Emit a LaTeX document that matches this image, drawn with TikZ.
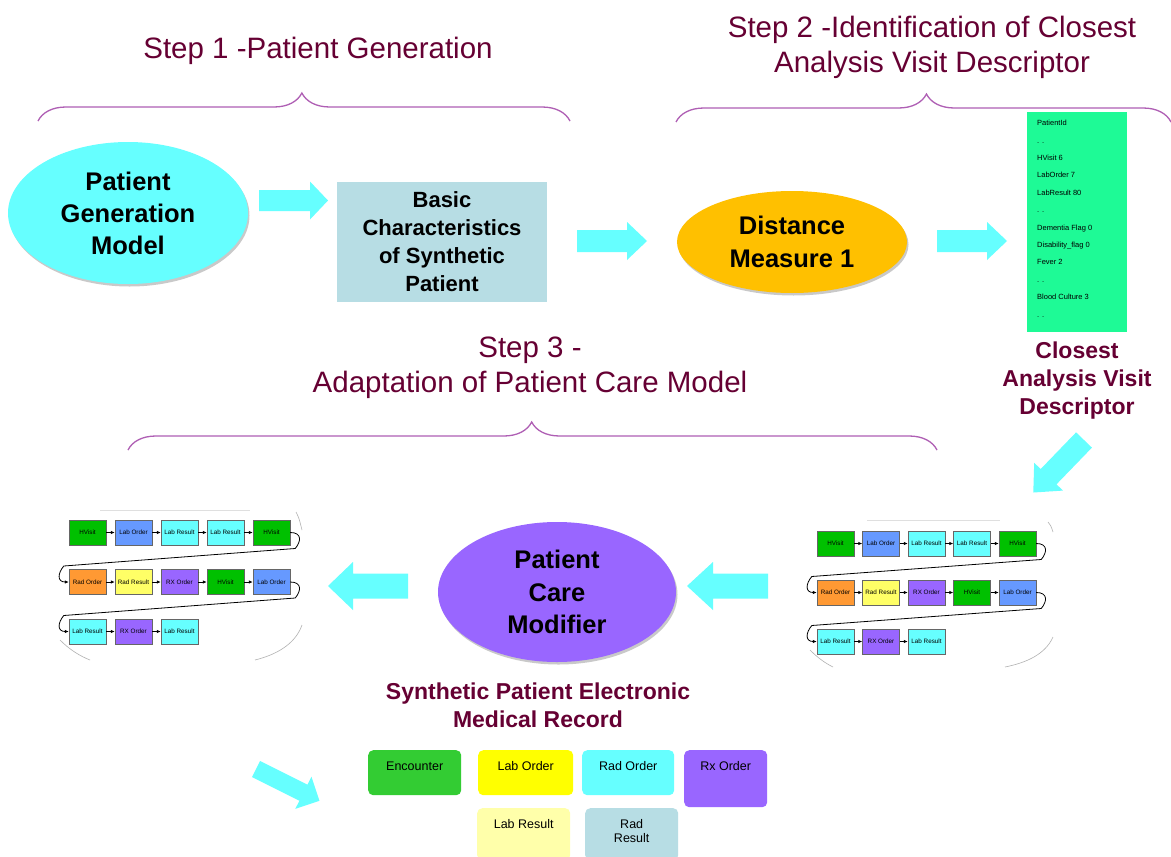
\documentclass[tikz,border=0pt]{standalone}
\usepackage{fontspec}
\setmainfont{Liberation Sans}
\usetikzlibrary{shapes.geometric,arrows.meta,decorations.pathreplacing,calc,shadows}

\definecolor{maroon}{RGB}{102,0,51}
\definecolor{bracec}{RGB}{175,95,180}
\definecolor{arrowc}{RGB}{102,255,255}
\definecolor{ellcyan}{RGB}{102,255,255}
\definecolor{boxgray}{RGB}{183,221,228}
\definecolor{orangeE}{RGB}{255,192,0}
\definecolor{greenD}{RGB}{30,250,150}
\definecolor{purpleE}{RGB}{153,102,255}
\definecolor{chv}{RGB}{0,192,0}
\definecolor{clo}{RGB}{102,153,255}
\definecolor{clr}{RGB}{102,255,255}
\definecolor{cro}{RGB}{255,153,51}
\definecolor{crr}{RGB}{255,255,102}
\definecolor{crx}{RGB}{153,102,255}
\definecolor{lenc}{RGB}{51,204,51}
\definecolor{llo}{RGB}{255,255,0}
\definecolor{lro}{RGB}{102,255,255}
\definecolor{lrx}{RGB}{153,102,255}
\definecolor{llr}{RGB}{255,255,170}
\definecolor{lrr}{RGB}{183,221,228}

\tikzset{
  titletext/.style={font=\fontsize{29.5}{35}\selectfont, text=maroon, align=center, inner sep=0pt},
  maroonlabel/.style={font=\bfseries\fontsize{23}{28}\selectfont, text=maroon, align=center, inner sep=0pt},
  bracestyle/.style={draw=bracec, line width=1.3pt, decorate, decoration={brace, amplitude=28pt, aspect=#1}},
  bigell/.style={ellipse, inner sep=0pt, align=center, drop shadow={shadow xshift=1.5pt, shadow yshift=-2.5pt, fill=gray!70, opacity=0.6}},
  evbox/.style={draw=gray!80!black, line width=0.4pt, minimum width=37pt, minimum height=25pt, inner sep=0pt, font=\fontsize{6.3}{7}\selectfont},
  evarr/.style={-{Latex[length=4pt,width=3.5pt]}, line width=0.8pt, black},
  scroll/.style={draw=gray!60, line width=0.6pt},
  legbox/.style={rounded corners=5pt, inner sep=0pt},
  legtext/.style={font=\fontsize{12.5}{14}\selectfont, align=center}
}

\newcommand\blockarrow[6]{%
  \fill[arrowc, shift={#1}, rotate=#2] (0,-#4) -- ({#3-#6},-#4) -- ({#3-#6},-#5) -- (#3,0) -- ({#3-#6},#5) -- ({#3-#6},#4) -- (0,#4) -- cycle;}

\newcommand\evchain[5]{%
  \foreach \r/\c/\k/\t in {1/1/hv/HVisit,1/2/lo/Lab Order,1/3/lr/Lab Result,1/4/lr/Lab Result,1/5/hv/HVisit,2/1/ro/Rad Order,2/2/rr/Rad Result,2/3/rx/RX Order,2/4/hv/HVisit,2/5/lo/Lab Order,3/1/lr/Lab Result,3/2/rx/RX Order,3/3/lr/Lab Result}
    {\node[evbox, fill=c\k] (#1-\r-\c) at ({#2+(\c-1)*#3},{#4+(\r-1)*#5}) {\t};}
  \foreach \r/\c [evaluate=\c as \n using int(\c+1)] in {1/1,1/2,1/3,1/4,2/1,2/2,2/3,2/4,3/1,3/2}
    {\draw[evarr] (#1-\r-\c) -- (#1-\r-\n);}
  \draw[evarr] (#1-1-5.east) .. controls +(12,0) and +(6,-7) .. ($(#1-1-5.east)+(5,16)$) -- ($(#1-2-1.west)+(-5,-16)$) .. controls +(-6,7) and +(-12,0) .. (#1-2-1.west);
  \draw[evarr] (#1-2-5.east) .. controls +(12,0) and +(6,-7) .. ($(#1-2-5.east)+(5,16)$) -- ($(#1-3-1.west)+(-5,-16)$) .. controls +(-6,7) and +(-12,0) .. (#1-3-1.west);
}

\begin{document}
\begin{tikzpicture}[x=1pt,y=-1pt]
\useasboundingbox (0,0) rectangle (1171,857);
\fill[white] (0,0) rectangle (1171,857);

% titles
\node[titletext] (s1) at (318,50.5) {Step 1 -Patient Generation};
\node[titletext] (s2) at (932,47) {Step 2 -Identification of Closest\\Analysis Visit Descriptor};
\node[titletext] (s3) at (530,368) {Step 3 -\\Adaptation of Patient Care Model};

% braces
\draw[bracestyle=0.496] (38,121) -- (570,121);
\draw[bracestyle=0.506] (676,122) -- (1171,122);
\draw[bracestyle=0.499] (128,450) -- (937,450);

% step 1 and 2 row
\node[bigell, fill=ellcyan, minimum width=240pt, minimum height=142pt, font=\bfseries\fontsize{25.5}{32}\selectfont] (pgm) at (128,213) {Patient\\Generation\\Model};
\node[fill=boxgray, minimum width=210pt, minimum height=120pt, inner sep=0pt, align=center, font=\bfseries\fontsize{22}{28}\selectfont] (basic) at (442,242) {Basic\\Characteristics\\of Synthetic\\Patient};
\node[bigell, fill=orangeE, minimum width=230pt, minimum height=102pt, font=\bfseries\fontsize{25.5}{33}\selectfont] (dist) at (792,242) {Distance\\Measure 1};
\node[fill=greenD, minimum width=100pt, minimum height=220pt, inner sep=0pt, anchor=north west] (vd) at (1027,112) {};
\node[anchor=north west, inner sep=0pt, align=left, font=\fontsize{7.5}{17.4}\selectfont] (vdtext) at (1037,120) {PatientId\\. .\\HVisit 6\\LabOrder 7\\LabResult 80\\. .\\Dementia Flag 0\\Disability\_flag 0\\Fever 2\\. .\\Blood Culture 3\\. .};
\node[maroonlabel] (vdlab) at (1077,381) {Closest\\Analysis Visit\\Descriptor};

\blockarrow{(259,200.5)}{0}{69}{10.5}{19}{18}
\blockarrow{(577,241)}{0}{70}{11}{19}{20}
\blockarrow{(937,241)}{0}{70}{11}{19}{20}
\blockarrow{(1084,440)}{226}{73}{11}{20}{22}

% step 3 row
\node[bigell, fill=purpleE, minimum width=238pt, minimum height=140pt, font=\bfseries\fontsize{25.5}{32.5}\selectfont] (pcm) at (557,592) {Patient\\Care\\Modifier};
\blockarrow{(768,586)}{180}{81}{12.5}{24}{26}
\blockarrow{(408,586)}{180}{80}{12.5}{24}{25}

% scroll outlines
\draw[scroll] (1048,522) .. controls (1051,526) .. (1053,532);
\draw[scroll] (1053,637) .. controls (1045,655) and (1025,663) .. (1005,667);
\draw[scroll] (810,650) .. controls (818,658) and (825,663) .. (833,667);
\draw[scroll, draw=gray!25] (867,520) -- (1000,520);
\draw[scroll] (296,512) .. controls (299,518) .. (302,530);
\draw[scroll] (302,625) .. controls (295,645) and (275,655) .. (255,660);
\draw[scroll] (60,640) .. controls (70,650) and (80,656) .. (90,660);
\draw[scroll, draw=gray!25] (100,510) -- (250,510);

\evchain{R}{835.5}{45.5}{543.5}{49}
\evchain{L}{87.5}{46}{532.5}{49.5}

\node[maroonlabel] (emr) at (538,705) {Synthetic Patient Electronic\\Medical Record};

% legend
\node[legbox, fill=lenc, minimum width=93pt, minimum height=45pt, anchor=north west, label={[legtext, anchor=north, yshift=-8pt]90:Encounter}] (lg1) at (368,750) {};
\node[legbox, fill=llo, minimum width=95pt, minimum height=45pt, anchor=north west, label={[legtext, anchor=north, yshift=-8pt]90:Lab Order}] (lg2) at (478,750) {};
\node[legbox, fill=lro, minimum width=92pt, minimum height=45pt, anchor=north west, label={[legtext, anchor=north, yshift=-8pt]90:Rad Order}] (lg3) at (582,750) {};
\node[legbox, fill=lrx, minimum width=83pt, minimum height=57pt, anchor=north west, label={[legtext, anchor=north, yshift=-8pt]90:Rx Order}] (lg4) at (684,750) {};
\node[legbox, fill=llr, minimum width=93pt, minimum height=52pt, anchor=north west, label={[legtext, anchor=north, yshift=-8pt]90:Lab Result}] (lg5) at (477,808) {};
\node[legbox, fill=lrr, minimum width=93pt, minimum height=52pt, anchor=north west, label={[legtext, anchor=north, yshift=-8pt]90:Rad\\Result}] (lg6) at (585,808) {};

\blockarrow{(256,769)}{-26.6}{71}{9}{18}{18}
\end{tikzpicture}
\end{document}
